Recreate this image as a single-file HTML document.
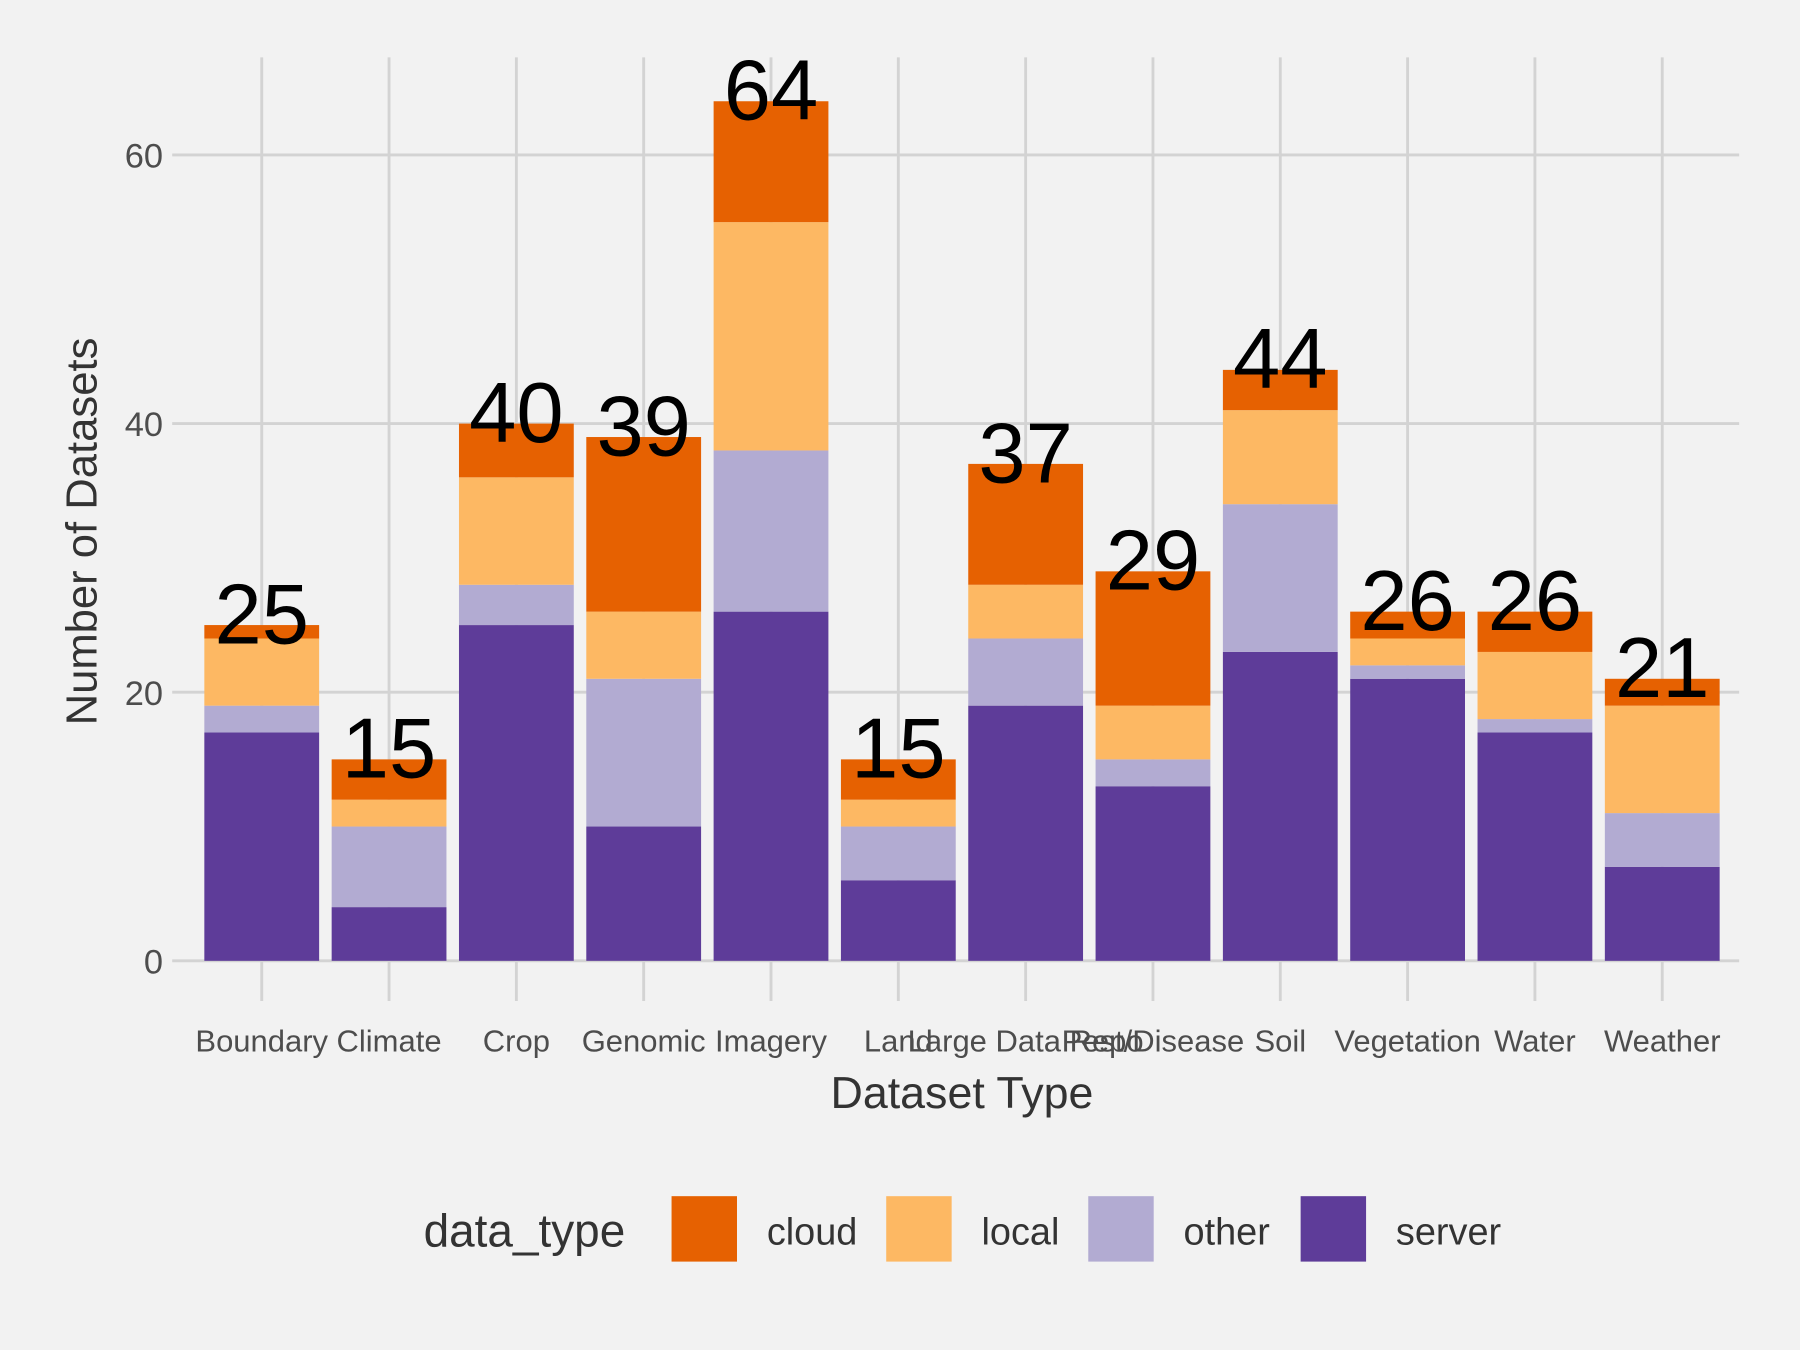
<!DOCTYPE html>
<html><head><meta charset="utf-8"><style>
html,body{margin:0;padding:0;background:#f2f2f2;}
svg{display:block;font-family:"Liberation Sans",Arial,sans-serif;}
</style></head><body>
<svg id="chart" width="1800" height="1350" viewBox="0 0 1568 1176" xmlns="http://www.w3.org/2000/svg">
<rect x="0" y="0" width="1568" height="1176" fill="#f2f2f2"/>
<g id="grid"></g>
<g id="bars"></g>
<g id="labels"></g>
<g id="axes"></g>
<text transform="translate(84,463) rotate(-90)" text-anchor="middle" font-size="38" fill="#333">Number of Datasets</text>
<text x="838" y="965" text-anchor="middle" font-size="39" fill="#333">Dataset Type</text>
<g id="legend">
<text x="369" y="1086" font-size="40" fill="#333">data_type</text>
</g>
</svg>
<script>
const categories = ["Boundary","Climate","Crop","Genomic","Imagery","Land","Large Data Repo","Pest/Disease","Soil","Vegetation","Water","Weather"];
const server = [17,4,25,10,26,6,19,13,23,21,17,7];
const other  = [2,6,3,11,12,4,5,2,11,1,1,4];
const local  = [5,2,8,5,17,2,4,4,7,2,5,8];
const cloud  = [1,3,4,13,9,3,9,10,3,2,3,2];
const yTicks = [0,20,40,60];
const seriesNames = ["cloud","local","other","server"];
const colors = {cloud:"#e66101",local:"#fdb863",other:"#b2abd2",server:"#5e3c99"};

const NS="http://www.w3.org/2000/svg";
function mk(tag,attrs,parent){const e=document.createElementNS(NS,tag);for(const k in attrs)e.setAttribute(k,attrs[k]);parent.appendChild(e);return e;}
const y0=837, pxPerUnit=(837-135)/60;
function yS(v){return y0-v*pxPerUnit;}
function xS(i){return 228+i*(1448-228)/(categories.length-1);}
const bw=100;
const grid=document.getElementById('grid'),bars=document.getElementById('bars'),labels=document.getElementById('labels'),axes=document.getElementById('axes'),legend=document.getElementById('legend');

yTicks.forEach(t=>{
  const l=mk('line',{x1:150,x2:1515,y1:yS(t),y2:yS(t),stroke:"#d3d3d3","stroke-width":2.5},grid);
  
  
  const tx=mk('text',{x:142,y:yS(t)+11,"text-anchor":"end","font-size":30,fill:"#4d4d4d"},axes);
  tx.textContent=t;
  
  
});
categories.forEach((c,i)=>{
  const x=xS(i);
  const g=mk('line',{x1:x,x2:x,y1:50,y2:872,stroke:"#d3d3d3","stroke-width":2.5},grid);
  
  
  const vals={server:server[i],other:other[i],local:local[i],cloud:cloud[i]};
  let base=0;
  ["server","other","local","cloud"].forEach(s=>{
    const v=vals[s];
    const r=mk('rect',{x:x-bw/2,y:yS(base+v),width:bw,height:yS(base)-yS(base+v),fill:colors[s]},bars);
    
    
    base+=v;
  });
  const tl=mk('text',{x:x,y:yS(base)+16,"text-anchor":"middle","font-size":74,fill:"#000"},labels);
  tl.textContent=base;
  
  
  const xl=mk('text',{x:x,y:916,"text-anchor":"middle","font-size":27,fill:"#4d4d4d"},axes);
  xl.textContent=c;
  
  
});
const keyX=[585,772,948,1133];
seriesNames.forEach((s,i)=>{
  const r=mk('rect',{x:keyX[i],y:1042,width:57,height:57,fill:colors[s]},legend);
  
  
  const t=mk('text',{x:keyX[i]+83,y:1084,"font-size":33,fill:"#333"},legend);
  t.textContent=s;
  
  
});
</script>
</body></html>
